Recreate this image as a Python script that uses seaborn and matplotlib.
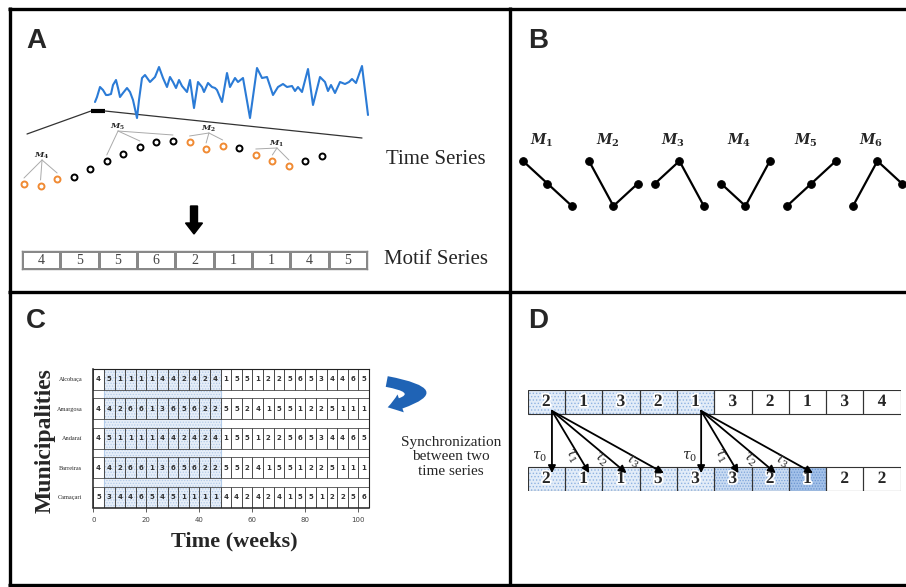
import numpy as np
import pandas as pd
import seaborn as sns
import matplotlib.pyplot as plt
from matplotlib.colors import ListedColormap
from matplotlib.patches import FancyArrow, FancyArrowPatch
import matplotlib.patheffects as pe

# ---------------- data ----------------
# panel A: raw time series (time step, value)
ts_t = [0, 2, 5, 8, 11, 13, 16, 18, 21, 23, 25, 28, 32, 35, 38, 42, 44, 47, 50, 55, 60, 64, 68, 72,
        75, 78, 81, 84, 87, 92, 95, 99, 103, 107, 109, 113, 117, 120, 122, 127, 132, 135, 140, 143,
        148, 155, 162, 167, 172, 178, 183, 188, 192, 197, 200, 203, 207, 213, 218, 225, 230, 233,
        236, 240, 245, 250, 254, 257, 261, 267, 273]
ts_v = [18, 23, 33, 30, 25, 25, 26, 35, 40, 32, 23, 27, 32, 28, 20, 2, 20, 42, 45, 38, 43, 53, 42,
        33, 43, 38, 32, 40, 34, 28, 40, 12, 38, 33, 28, 37, 33, 32, 30, 18, 47, 33, 42, 38, 42, 2,
        52, 42, 43, 25, 33, 36, 33, 34, 29, 33, 28, 51, 15, 43, 38, 29, 35, 27, 38, 36, 38, 41, 37,
        54, 5]
# discretised points below the series and the motifs they form
dot_v = [16, 14, 21, 23, 31, 39, 46, 53, 58, 59, 58, 51, 54, 52, 45, 39, 34, 39, 44]
dot_orange = [0, 1, 2, 10, 11, 12, 14, 15, 16]
dot_motif_names = ["4", "5", "2", "1"]
dot_motif_pos = [(1.09, 44), (5.68, 73), (11.17, 71), (15.28, 56)]
dot_motif_pts = [[0, 1, 2], [5, 7, 9], [10, 11, 12], [14, 15, 16]]
motif_series = [4, 5, 5, 6, 2, 1, 1, 4, 5]

# panel B: the six ordinal motifs (0 low, 1 mid, 2 high)
motif_names = ["1", "2", "3", "4", "5", "6"]
motif_levels = [[2, 1, 0], [2, 0, 1], [1, 2, 0], [1, 0, 2], [0, 1, 2], [0, 2, 1]]

# panel C: motif series per municipality (one value every 4 weeks)
municipalities = ["Alcobaça", "Amargosa", "Andaraí", "Barreiras", "Camaçari"]
alcobaca = [4, 5, 1, 1, 1, 1, 4, 4, 2, 4, 2, 4, 1, 5, 5, 1, 2, 2, 5, 6, 5, 3, 4, 4, 6, 5]
amargosa = [4, 4, 2, 6, 6, 1, 3, 6, 5, 6, 2, 2, 5, 5, 2, 4, 1, 5, 5, 1, 2, 2, 5, 1, 1, 1]
andarai = [4, 5, 1, 1, 1, 1, 4, 4, 2, 4, 2, 4, 1, 5, 5, 1, 2, 2, 5, 6, 5, 3, 4, 4, 6, 5]
barreiras = [4, 4, 2, 6, 6, 1, 3, 6, 5, 6, 2, 2, 5, 5, 2, 4, 1, 5, 5, 1, 2, 2, 5, 1, 1, 1]
camacari = [5, 3, 4, 4, 6, 5, 4, 5, 1, 1, 1, 1, 4, 4, 2, 4, 2, 4, 1, 5, 5, 1, 2, 2, 5, 6]
week_step = 4
sync_weeks = (4, 48)

# panel D: two motif series and the lagged comparisons
d_top = [2, 1, 3, 2, 1, 3, 2, 1, 3, 4]
d_bottom = [2, 1, 1, 5, 3, 3, 2, 1, 2, 2]
d_top_shade = [1, 1, 1, 1, 1, 0, 0, 0, 0, 0]
d_bottom_shade = [1, 1, 1, 1, 1, 2, 2, 3, 0, 0]
d_sources = [0, 4]
d_lags = [0, 1, 2, 3]

# ---------------- style ----------------
sns.set_theme(style="white")
plt.rcParams["font.family"] = ["Liberation Serif", "DejaVu Serif"]
plt.rcParams["mathtext.fontset"] = "dejavuserif"
plt.rcParams["hatch.linewidth"] = 0.6

W, H = 906, 587
fig = plt.figure(figsize=(W / 100, H / 100), dpi=100)


def box(x0, y0, x1, y1):
    return [x0 / W, 1 - y1 / H, (x1 - x0) / W, (y1 - y0) / H]


# frame axes in pixel units for borders / decorations
fr = fig.add_axes([0, 0, 1, 1])
fr.set_xlim(0, W)
fr.set_ylim(H, 0)
fr.axis("off")
lw_b = 2.4
fr.plot([8, 906], [8.5, 8.5], color="black", lw=lw_b, solid_capstyle="butt")
fr.plot([10, 10], [7, 586], color="black", lw=lw_b, solid_capstyle="butt")
fr.plot([8, 906], [584.5, 584.5], color="black", lw=lw_b, solid_capstyle="butt")
fr.plot([509.5, 509.5], [7, 586], color="black", lw=lw_b, solid_capstyle="butt")
fr.plot([8, 906], [292, 292], color="black", lw=lw_b, solid_capstyle="butt")
for lab, x, y in [("A", 26, 41), ("B", 528, 41), ("C", 26, 321), ("D", 528, 321)]:
    fr.text(x, y, lab, fontsize=20, fontweight="bold", family="Liberation Sans",
            ha="left", va="center")

# ---------------- panel A ----------------
# zoom lines from the series to the points
fr.plot([27, 91], [134, 111], color="#333333", lw=0.9)
fr.plot([91, 105], [111, 111], color="black", lw=3, solid_capstyle="butt")
fr.plot([105, 362], [111, 138], color="#333333", lw=0.9)

axts = fig.add_axes(box(90, 50, 372, 125))
axts.patch.set_alpha(0)
sns.lineplot(x=ts_t, y=ts_v, ax=axts, color="#2b7bd6", lw=1.5, sort=False)
axts.set_xlim(-5, 277)
axts.set_ylim(-5, 70)
axts.axis("off")

axd = fig.add_axes(box(14, 100, 332, 195))
axd.patch.set_alpha(0)
idx = np.arange(len(dot_v))
cols = ["#f08a33" if i in dot_orange else "black" for i in idx]
for i, v, c in zip(idx, dot_v, cols):
    axd.plot(i, v, "o", ms=4.3, mfc="none", mec=c, mew=1.4)
for name, (lx, ly), pts in zip(dot_motif_names, dot_motif_pos, dot_motif_pts):
    axd.text(lx, ly, r"$\mathbfit{M}_{\mathbf{" + name + "}}$", fontsize=6,
             ha="center", va="center")
    for p in pts:
        axd.plot([lx, p], [ly - 4, dot_v[p] + 6], color="#aaaaaa", lw=0.7)
axd.set_xlim(-10 / 16.56, 18 + 10 / 16.56)
axd.set_ylim(5, 100)
axd.axis("off")

fr.text(436, 159, "Time Series", fontsize=15, ha="center", va="center")
fr.text(436, 259, "Motif Series", fontsize=15, ha="center", va="center")
fr.add_patch(FancyArrow(194, 206, 0, 28, width=7, head_width=17, head_length=11,
                        length_includes_head=True, color="black"))

axm = fig.add_axes(box(22, 251, 367, 269))
sns.heatmap(np.array([motif_series]), ax=axm, annot=True, cbar=False,
            cmap=ListedColormap(["white"]), linewidths=1, linecolor="#888888",
            annot_kws={"fontsize": 10, "color": "#444444", "family": "Liberation Serif"})
axm.set_xticks([])
axm.set_yticks([])
for s in axm.spines.values():
    s.set_visible(True)
    s.set_color("#888888")
    s.set_linewidth(1)

# ---------------- panel B ----------------
axb = fig.add_axes(box(513, 130, 906, 216))
axb.patch.set_alpha(0)
rows = []
for k, lev in enumerate(motif_levels):
    for j, l in enumerate(lev):
        rows.append({"motif": k, "x": k + 0.37 * j, "level": l})
dfb = pd.DataFrame(rows)
sns.lineplot(data=dfb, x="x", y="level", units="motif", estimator=None, ax=axb,
             color="black", lw=1.6, marker="o", ms=5.5, mec="black", mfc="black")
for k, name in enumerate(motif_names):
    axb.text(k + 0.28, (206 - 140) / 22.5, r"$\mathbfit{M}_{\mathbf{" + name + "}}$",
             fontsize=10, ha="center", va="center")
axb.set_xlim(-10 / 66, (906 - 523) / 66)
axb.set_ylim((206 - 216) / 22.5, (206 - 130) / 22.5)
axb.axis("off")

# ---------------- panel C ----------------
series_c = [alcobaca, amargosa, andarai, barreiras, camacari]
axc = fig.add_axes(box(93.3, 369, 369, 507.5))
axc.set_facecolor("white")
axc.axvspan(sync_weeks[0], sync_weeks[1], facecolor="#e6eef8", edgecolor="#b3cbe9",
            hatch="......", lw=0.8, zorder=0)
ch = 21 / 29.5
for r, vals in enumerate(series_c):
    lefts = np.arange(len(vals)) * week_step
    axc.barh([r] * len(vals), [week_step] * len(vals), left=lefts, height=ch,
             facecolor="none", edgecolor="#4a4a4a", lw=0.6, zorder=2)
    for j, v in enumerate(vals):
        axc.text(lefts[j] + week_step / 2, r, str(v), fontsize=5, fontweight="bold",
                 family="DejaVu Sans", color="#333333", ha="center", va="center", zorder=3)
axc.set_xlim(0, len(alcobaca) * week_step)
axc.set_ylim(4 + ch / 2, -ch / 2)
axc.set_xticks([0, 20, 40, 60, 80, 100])
axc.set_yticks(range(len(municipalities)))
axc.set_yticklabels(municipalities)
axc.tick_params(axis="y", length=0, labelsize=4.5, pad=8)
axc.tick_params(axis="x", length=3, width=0.6, labelsize=5, pad=4, colors="#444444",
                bottom=True, direction="out")
for lab in axc.get_xticklabels():
    lab.set_family("DejaVu Sans")
for side, s in axc.spines.items():
    s.set_visible(True)
    s.set_color("#222222")
    s.set_linewidth(1.1 if side in ("left", "bottom") else 0.8)
axc.grid(False)

fr.text(45, 441, "Municipalities", rotation=90, fontsize=17, fontweight="bold",
        ha="center", va="center")
fr.text(234, 541, "Time (weeks)", fontsize=16, fontweight="bold", ha="center", va="center")

fr.add_patch(FancyArrowPatch((384, 381), (385, 408),
                             connectionstyle="arc3,rad=-2.3",
                             arrowstyle="simple,head_length=0.75,head_width=1.05,tail_width=0.6",
                             mutation_scale=13, color="#1f63b5", lw=0))
fr.text(451, 457, "Synchronization\nbetween two\ntime series", fontsize=11,
        ha="center", va="center", linespacing=1.15)

# ---------------- panel D ----------------
h = 24 / 77
axdd = fig.add_axes(box(527.7, 390, 900.7, 491))
axdd.patch.set_alpha(0)
shade_face = ["white", "#e2ecf8", "#c9dbf2", "#a3c1e9"]
shade_hatch = ["", ".....", "......", "......"]
shade_dot = ["white", "#8fb3e1", "#7ea5da", "#6b95d0"]
for row, vals, shades in [(0, d_top, d_top_shade), (1, d_bottom, d_bottom_shade)]:
    for j, (v, s) in enumerate(zip(vals, shades)):
        axdd.bar(j + 0.5, h, bottom=row, width=1, facecolor=shade_face[s],
                 edgecolor=shade_dot[s], hatch=shade_hatch[s], lw=0, zorder=1)
        axdd.bar(j + 0.5, h, bottom=row, width=1, facecolor="none",
                 edgecolor="#333333", lw=0.8, zorder=2)
        axdd.text(j + 0.5, row + h / 2, str(v), fontsize=12.5, fontweight="bold",
                  ha="center", va="center", zorder=4,
                  path_effects=[pe.withStroke(linewidth=2.5, foreground="white")])
px_x, px_y = 37.3, 77.0
for src in d_sources:
    x0, y0 = src + 0.65, h * 0.87
    for lag in d_lags:
        x1, y1 = src + lag + 0.65, 1.08
        axdd.annotate("", xy=(x1, y1), xytext=(x0, y0), zorder=5,
                      arrowprops=dict(arrowstyle="-|>", color="black", lw=1.3,
                                      mutation_scale=11, shrinkA=0, shrinkB=0))
        if lag == 0:
            axdd.text(x0 - 12 / px_x, (457 - 390) / px_y, r"$\tau_0$", fontsize=10,
                      ha="center", va="center", zorder=5)
        else:
            dx, dy = (x1 - x0) * px_x, (y1 - y0) * px_y
            n = np.hypot(dx, dy)
            t = 0.62 + 0.04 * lag
            off = 8 - lag
            lx = x0 + t * (x1 - x0) + (-dy / n * off) / px_x
            ly = y0 + t * (y1 - y0) + (dx / n * off) / px_y
            ang = -np.degrees(np.arctan2(dy, dx))
            axdd.text(lx, ly, r"$\tau_" + str(lag) + "$", fontsize=10, rotation=ang,
                      rotation_mode="anchor", ha="center", va="center", zorder=5)
axdd.set_xlim(0, 10)
axdd.set_ylim(1 + h, 0)
axdd.axis("off")

fig.savefig("out.png", dpi=100)
